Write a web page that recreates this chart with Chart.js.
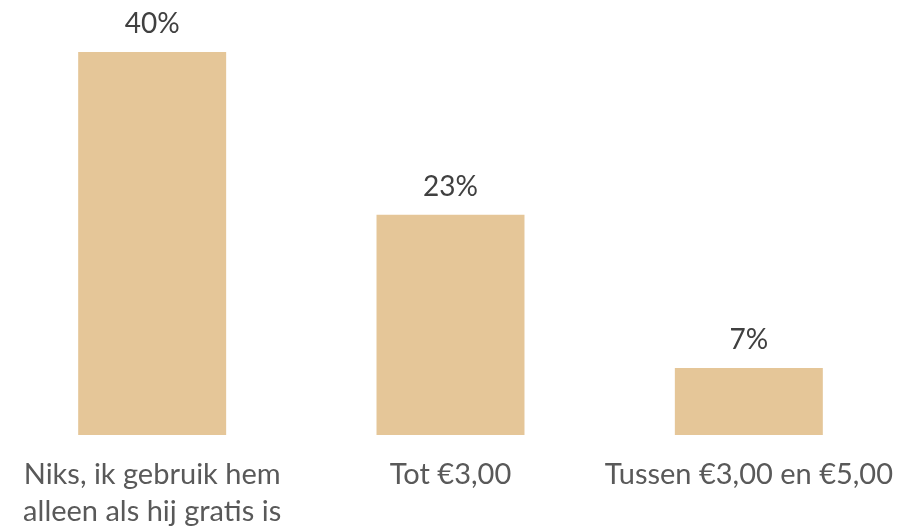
<!DOCTYPE html>
<html>
<head>
<meta charset="utf-8">
<script src="https://cdn.jsdelivr.net/npm/chart.js@4/dist/chart.umd.min.js"></script>
<style>
html,body{margin:0;padding:0;background:#fff;}
#wrap{width:901px;height:529px;position:relative;}
</style>
</head>
<body>
<div id="wrap"><canvas id="c" width="901" height="529"></canvas></div>
<script>
const categories = [["Niks, ik gebruik hem", "alleen als hij gratis is"], "Tot €3,00", "Tussen €3,00 en €5,00"];
const values = [40, 23, 7];
const valueLabels = ["40%", "23%", "7%"];

const FONT = 'Lato, "Open Sans", sans-serif';

const labelPlugin = {
  id: 'valueLabels',
  afterDatasetsDraw(chart) {
    const ctx = chart.ctx;
    const meta = chart.getDatasetMeta(0);
    ctx.save();
    ctx.font = '28px ' + FONT;
    ctx.fillStyle = '#404040';
    ctx.textAlign = 'center';
    ctx.textBaseline = 'alphabetic';
    meta.data.forEach((bar, i) => {
      ctx.fillText(valueLabels[i], bar.x, bar.y - 19);
    });
    ctx.restore();
  }
};

new Chart(document.getElementById('c'), {
  type: 'bar',
  data: {
    labels: categories,
    datasets: [{
      data: values,
      backgroundColor: '#E5C698',
      barPercentage: 1,
      categoryPercentage: 0.496
    }]
  },
  options: {
    responsive: false,
    animation: false,
    layout: { padding: { top: 52, left: 3, right: 3, bottom: 0 } },
    plugins: { legend: { display: false }, tooltip: { enabled: false } },
    scales: {
      y: { display: false, min: 0, max: 40 },
      x: {
        grid: { display: false, drawTicks: false },
        border: { display: false },
        ticks: {
          color: '#595959',
          font: { family: FONT, size: 29, lineHeight: '37px' },
          padding: 21,
          maxRotation: 0,
          autoSkip: false
        },
        afterFit(scale) {
          scale.height = 94;
          scale.paddingLeft = 0;
          scale.paddingRight = 0;
        }
      }
    }
  },
  plugins: [labelPlugin]
});
</script>
</body>
</html>
